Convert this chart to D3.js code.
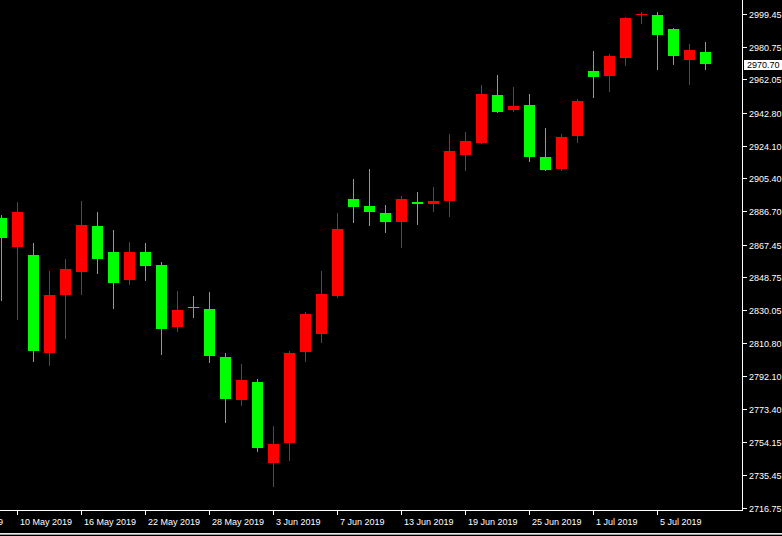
<!DOCTYPE html>
<html>
<head>
<meta charset="utf-8">
<script src="https://cdn.jsdelivr.net/npm/d3@7"></script>
<style>
  html, body { margin: 0; padding: 0; background: #000; }
  svg { display: block; }
  text { font-family: "Liberation Sans", Arial, sans-serif; font-size: 9px; fill: #ffffff; }
</style>
</head>
<body>
<script>
// ---- data ----
const dates = ["9 May","10 May","13 May","14 May","15 May","16 May","17 May","20 May","21 May","22 May",
  "23 May","24 May","27 May","28 May","29 May","30 May","31 May","3 Jun","4 Jun","5 Jun",
  "6 Jun","7 Jun","10 Jun","11 Jun","12 Jun","13 Jun","14 Jun","17 Jun","18 Jun","19 Jun",
  "20 Jun","21 Jun","24 Jun","25 Jun","26 Jun","27 Jun","28 Jun","1 Jul","2 Jul","3 Jul",
  "4 Jul","5 Jul","8 Jul","9 Jul","10 Jul"];
const open  = [2882.6,2866.2,2861.4,2805.3,2838.5,2851.9,2878.0,2863.2,2847.3,2863.2,
  2855.7,2820.1,2831.6,2830.5,2803.0,2778.4,2788.7,2742.3,2754.0,2806.1,
  2816.4,2838.0,2893.5,2889.5,2885.5,2880.3,2891.8,2890.8,2892.6,2918.9,
  2925.8,2953.0,2944.6,2947.3,2917.6,2910.9,2929.8,2966.8,2964.1,2974.4,
  2998.8,2998.9,2990.9,2973.3,2977.7];
const high  = [2884.4,2891.8,2868.3,2852.3,2859.2,2892.4,2886.1,2875.8,2868.9,2868.3,
  2857.4,2841.0,2838.0,2840.2,2805.5,2799.0,2790.4,2763.5,2806.5,2828.8,
  2852.1,2885.5,2905.0,2910.7,2890.1,2895.2,2897.5,2900.6,2930.7,2931.9,
  2958.8,2964.5,2957.6,2953.6,2934.2,2930.7,2950.9,2978.3,2976.5,2997.9,
  3000.6,3000.6,2991.4,2982.4,2983.4];
const low   = [2835.3,2824.4,2800.4,2798.1,2813.5,2838.7,2850.7,2830.7,2844.4,2846.7,
  2804.4,2817.5,2825.6,2799.8,2765.4,2775.0,2748.8,2728.4,2743.7,2800.4,
  2811.2,2837.0,2879.9,2878.2,2874.2,2865.6,2878.8,2886.2,2883.4,2909.7,
  2925.2,2942.9,2943.5,2914.9,2909.7,2909.7,2925.8,2951.5,2955.0,2969.8,
  2993.7,2967.4,2970.4,2959.0,2967.6];
const close = [2871.4,2886.1,2806.6,2838.4,2853.4,2878.6,2859.3,2845.6,2863.2,2855.3,
  2819.2,2830.1,2831.0,2803.8,2779.0,2789.9,2751.1,2753.2,2805.3,2827.7,
  2839.1,2876.4,2889.1,2886.2,2880.3,2893.5,2890.6,2892.4,2921.0,2926.7,
  2953.6,2943.5,2946.8,2917.7,2910.3,2929.0,2949.6,2963.5,2975.6,2997.2,
  2999.3,2987.6,2975.6,2978.8,2970.7];
const yTickLabels = ["2999.45","2980.75","2962.05","2942.80","2924.10","2905.40","2886.70","2867.45",
  "2848.75","2830.05","2810.80","2792.10","2773.40","2754.15","2735.45","2716.75"];
const xTickLabels = ["6 May 2019","10 May 2019","16 May 2019","22 May 2019","28 May 2019","3 Jun 2019",
  "7 Jun 2019","13 Jun 2019","19 Jun 2019","25 Jun 2019","1 Jul 2019","5 Jul 2019"];
const xTickIndex = [-3,1,5,9,13,17,21,25,29,33,37,41];
const lastPrice = "2970.70";

// ---- layout ----
const W = 782, H = 536;
const plotRight = 742, plotBottom = 510.5;

const svg = d3.select("body").append("svg").attr("width", W).attr("height", H);
svg.append("rect").attr("width", W).attr("height", H).attr("fill", "#000");

const x = d3.scaleLinear().domain([0, dates.length - 1]).range([1.5, 1.5 + 16 * (dates.length - 1)]);
const y = d3.scaleLinear().domain([2716.75, 2999.45]).range([507.7, 14]);

svg.append("clipPath").attr("id", "plotClip")
  .append("rect").attr("x", 0).attr("y", 0).attr("width", plotRight).attr("height", plotBottom);

const bars = dates.map((d, i) => ({ i, o: open[i], h: high[i], l: low[i], c: close[i] }));
const g = svg.append("g").attr("clip-path", "url(#plotClip)");
const col = d => d.c >= d.o ? "#ff0000" : "#00ff00";

g.selectAll("line.wick").data(bars).join("line")
  .attr("class", "wick")
  .attr("x1", d => x(d.i)).attr("x2", d => x(d.i))
  .attr("y1", d => Math.round(y(d.h))).attr("y2", d => Math.round(y(d.l)))
  .attr("stroke", col).attr("stroke-width", 1)
  .attr("shape-rendering", "crispEdges");

g.selectAll("rect.body").data(bars).join("rect")
  .attr("class", "body")
  .attr("x", d => x(d.i) - 5.5)
  .attr("width", 11)
  .attr("y", d => Math.round(y(Math.max(d.o, d.c))))
  .attr("height", d => Math.max(1, Math.round(y(Math.min(d.o, d.c))) - Math.round(y(Math.max(d.o, d.c)))))
  .attr("fill", col)
  .attr("shape-rendering", "crispEdges");

// frame
svg.append("line").attr("x1", plotRight + 0.5).attr("x2", plotRight + 0.5)
  .attr("y1", 0).attr("y2", plotBottom + 0.5)
  .attr("stroke", "#fff").attr("shape-rendering", "crispEdges");
svg.append("line").attr("x1", 0).attr("x2", plotRight + 1)
  .attr("y1", plotBottom).attr("y2", plotBottom)
  .attr("stroke", "#fff").attr("shape-rendering", "crispEdges");

// y axis ticks
const yt = svg.append("g");
yTickLabels.forEach(t => {
  const yy = Math.round(y(parseFloat(t))) + 0.5;
  yt.append("line").attr("x1", plotRight + 1).attr("x2", plotRight + 5)
    .attr("y1", yy).attr("y2", yy).attr("stroke", "#fff").attr("shape-rendering", "crispEdges");
  yt.append("text").attr("x", 749).attr("y", yy).attr("dy", "0.35em").text(t);
});

// last price tag
const ly = y(parseFloat(lastPrice));
svg.append("rect").attr("x", 744).attr("y", Math.round(ly) - 4.5).attr("width", 38).attr("height", 10)
  .attr("fill", "#fff").attr("shape-rendering", "crispEdges");
svg.append("text").attr("x", 747).attr("y", Math.round(ly) + 0.5).attr("dy", "0.35em")
  .style("fill", "#000").text(lastPrice);

// x axis ticks
const xt = svg.append("g");
xTickLabels.forEach((t, k) => {
  const xx = x(xTickIndex[k]) - 0.5;
  xt.append("line").attr("x1", xx).attr("x2", xx).attr("y1", plotBottom).attr("y2", plotBottom + 4)
    .attr("stroke", "#fff").attr("shape-rendering", "crispEdges");
  xt.append("text").attr("x", xx + 3).attr("y", 524.5).text(t);
});

// bottom window border
svg.append("line").attr("x1", 0).attr("x2", W).attr("y1", 533.5).attr("y2", 533.5)
  .attr("stroke", "#e6e6e6").attr("shape-rendering", "crispEdges");
svg.append("line").attr("x1", 0).attr("x2", W).attr("y1", 534.5).attr("y2", 534.5)
  .attr("stroke", "#a0a0a0").attr("shape-rendering", "crispEdges");
</script>
</body>
</html>
